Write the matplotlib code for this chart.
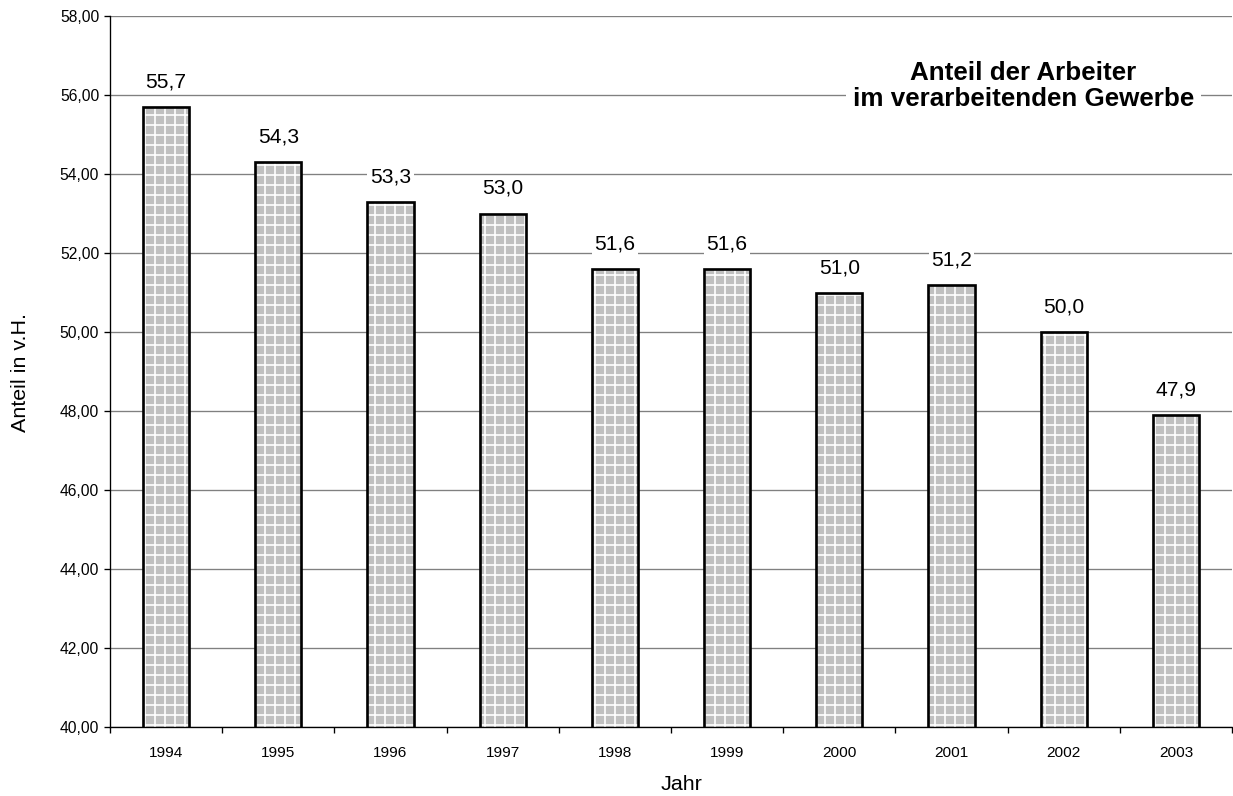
import matplotlib
matplotlib.use("Agg")
import matplotlib.pyplot as plt
import numpy as np

years = ["1994", "1995", "1996", "1997", "1998", "1999", "2000", "2001", "2002", "2003"]
values = [55.7, 54.3, 53.3, 53.0, 51.6, 51.6, 51.0, 51.2, 50.0, 47.9]
yticks = [40, 42, 44, 46, 48, 50, 52, 54, 56, 58]

DPI = 120
W, H = 1233, 796
plt.rcParams['font.family'] = ['Liberation Sans', 'DejaVu Sans']
plt.rcParams['hatch.linewidth'] = 1.0

fig = plt.figure(figsize=(W / DPI, H / DPI), dpi=DPI)
ax = fig.add_axes([110 / W, 1 - 727 / H, (1232 - 110) / W, (727 - 16) / H])

x = np.arange(len(years))
ax.bar(x, values, width=0.41, color='#c0c0c0', edgecolor='white', hatch='++',
       linewidth=0, zorder=2)
ax.bar(x, values, width=0.41, facecolor='none', edgecolor='black',
       linewidth=1.6, zorder=3)

for xi, v in zip(x, values):
    ax.annotate(f"{v:.1f}".replace('.', ','), (xi, v), xytext=(0, 15),
                textcoords='offset points', ha='center', va='center',
                fontsize=12.6, zorder=4,
                bbox=dict(boxstyle='square,pad=0.12', fc='white', ec='none'))

ax.set_ylim(40, 58)
ax.set_xlim(-0.5, len(years) - 0.5)
ax.set_yticks(yticks)
ax.set_yticklabels([f"{t:.2f}".replace('.', ',') for t in yticks], fontsize=9.4)
ax.set_xticks(x)
ax.set_xticklabels(years, fontsize=9.2)
ax.set_xticks(np.arange(-0.5, len(years), 1), minor=True)
ax.tick_params(axis='x', which='major', length=0, pad=11.5)
ax.tick_params(axis='x', which='minor', length=3.5, width=0.8, direction='out')
ax.tick_params(axis='y', length=3.5, width=0.8, direction='out', pad=3)

ax.grid(axis='y', color='#808080', linewidth=0.8, zorder=0)
ax.set_axisbelow(True)
for s in ['top', 'right']:
    ax.spines[s].set_visible(False)
for s in ['left', 'bottom']:
    ax.spines[s].set_linewidth(0.8)
    ax.spines[s].set_zorder(5)

fig.text(20.5 / W, 1 - 372.5 / H, "Anteil in v.H.", rotation=90, ha='center', va='center', fontsize=12.9)
fig.text(682 / W, 1 - 785 / H, "Jahr", ha='center', va='center', fontsize=12.9)

fig.text(1023.5 / W, 1 - 86 / H, "Anteil der Arbeiter\nim verarbeitenden Gewerbe",
         ha='center', va='center', fontsize=15.6, fontweight='bold', linespacing=1.13,
         bbox=dict(boxstyle='square,pad=0.25', fc='white', ec='none'), zorder=10)

fig.savefig("out.png", dpi=DPI, facecolor='white')
